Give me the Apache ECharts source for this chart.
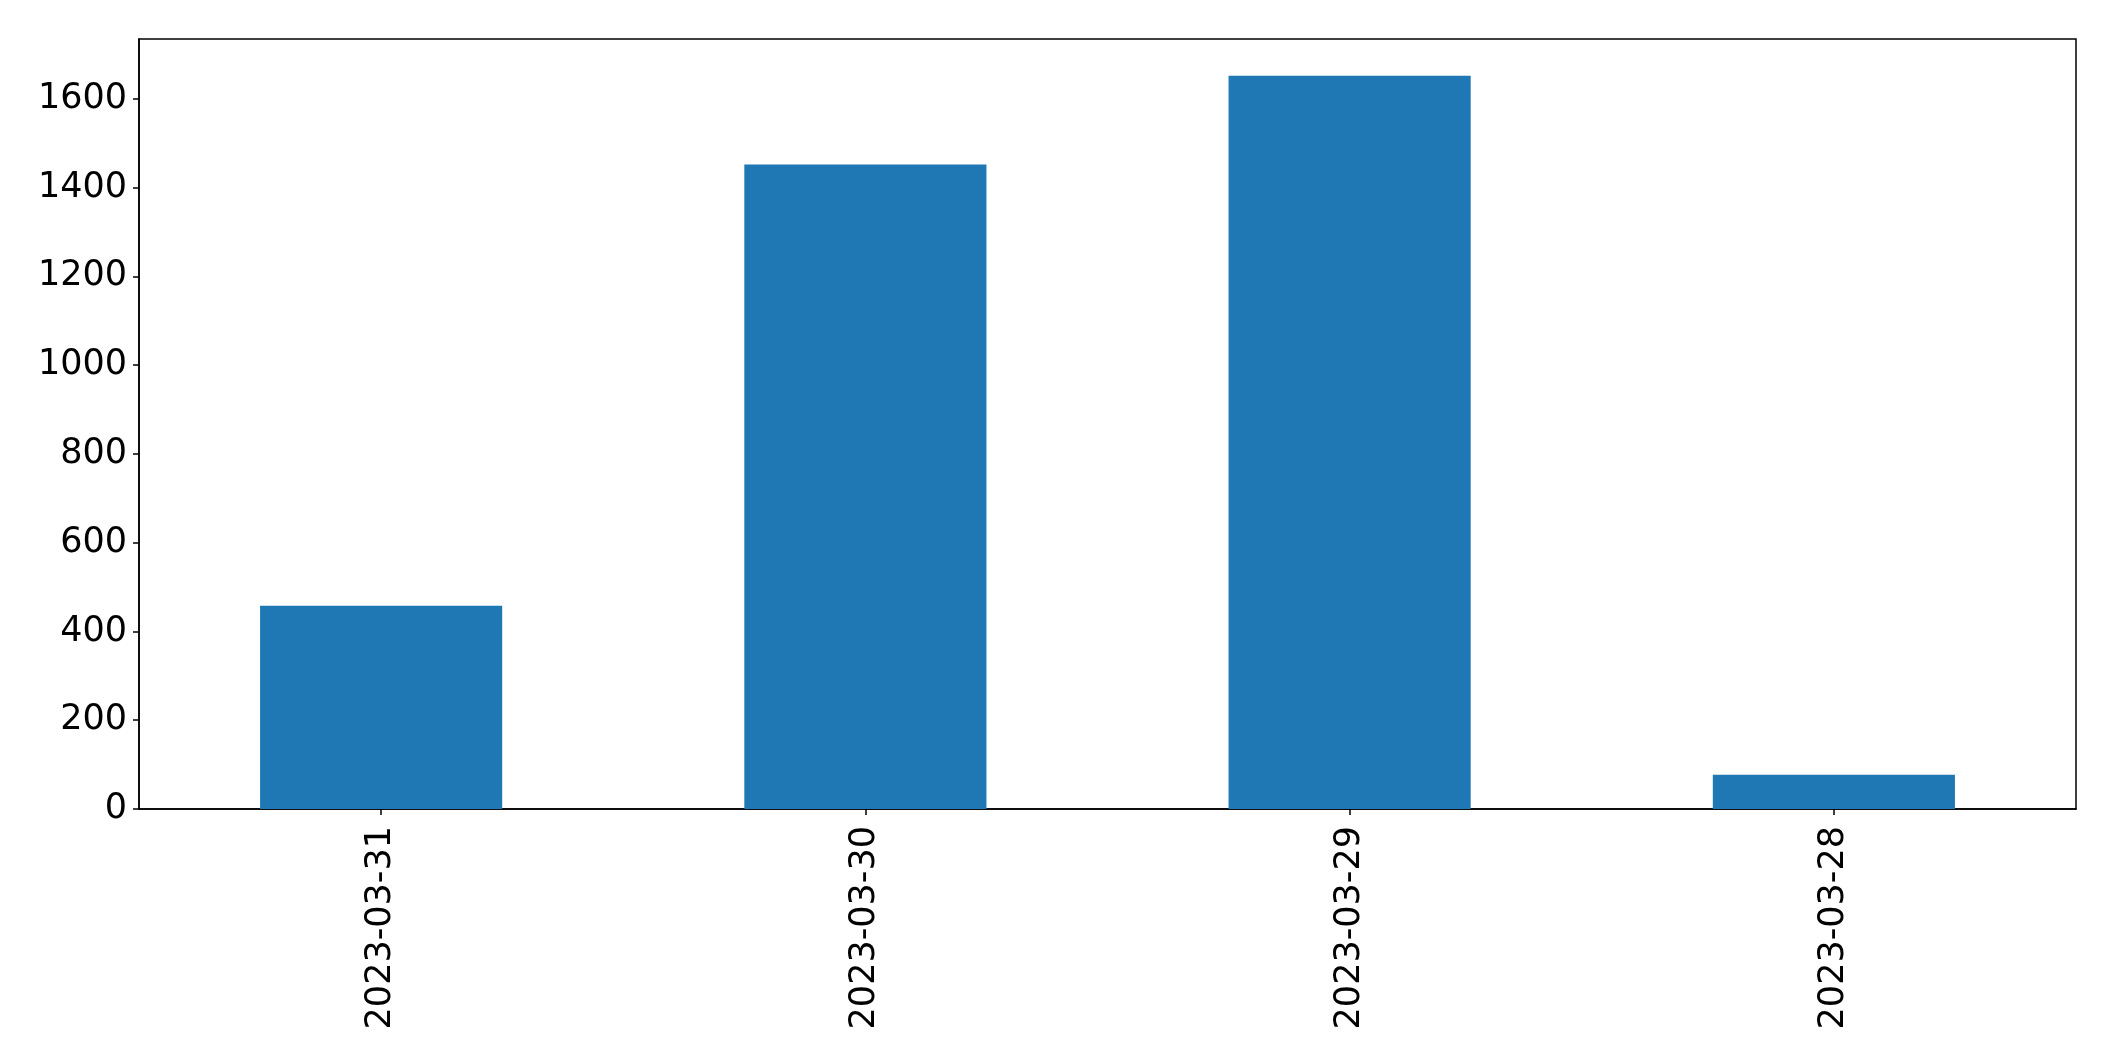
<!DOCTYPE html>
<html>
<head>
<meta charset="utf-8">
<script src="https://cdn.jsdelivr.net/npm/echarts@6/dist/echarts.min.js"></script>
<style>
html,body{margin:0;padding:0;background:#fff;}
#chart{width:2115px;height:1061px;}
</style>
</head>
<body>
<div id="chart"></div>
<script>
const categories = ["2023-03-31", "2023-03-30", "2023-03-29", "2023-03-28"];
const values = [458, 1452, 1652, 77];
const yTicks = [0, 200, 400, 600, 800, 1000, 1200, 1400, 1600];

const yMax = Math.max(...values) * 1.05;
const font = "DejaVu Sans";

const chart = echarts.init(document.getElementById('chart'), null, {renderer: 'canvas'});
chart.setOption({
  animation: false,
  backgroundColor: '#ffffff',
  grid: {
    left: 139, top: 39, right: 39, bottom: 252,
    show: true, borderColor: '#000', borderWidth: 1.5, backgroundColor: 'transparent',
    containLabel: false
  },
  xAxis: {
    type: 'category',
    data: categories,
    boundaryGap: true,
    axisLine: {show: true, lineStyle: {color: '#000', width: 1.5}},
    axisTick: {show: true, alignWithLabel: true, length: 6, lineStyle: {color: '#000', width: 1.5}},
    axisLabel: {rotate: 90, margin: 17, color: '#000', fontSize: 35, fontFamily: font},
    splitLine: {show: false}
  },
  yAxis: {
    type: 'value',
    min: 0,
    max: yMax,
    axisLine: {show: true, lineStyle: {color: '#000', width: 1.5}},
    axisTick: {show: true, length: 6, lineStyle: {color: '#000', width: 1.5}, customValues: yTicks},
    axisLabel: {margin: 12, color: '#000', fontSize: 35, fontFamily: font, customValues: yTicks,
      formatter: function (v) { return String(Math.round(v)); }},
    splitLine: {show: false}
  },
  series: [{
    type: 'bar',
    data: values,
    barWidth: '50%',
    itemStyle: {color: '#1f77b4'}
  }]
});
</script>
</body>
</html>
